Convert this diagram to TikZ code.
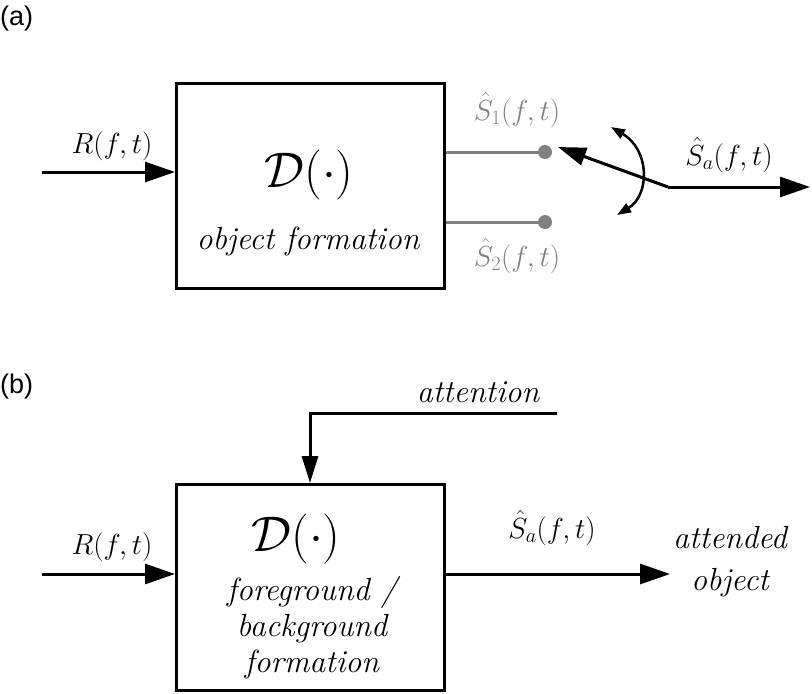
\RequirePackage{fix-cm}
\documentclass[tikz,border=0pt]{standalone}
\usepackage{fontspec}
\setsansfont{Liberation Sans}
\usetikzlibrary{arrows.meta}
\begin{document}
\begin{tikzpicture}[x=1pt,y=-1pt,
  bigarrow/.style={line width=3pt,-{Triangle[length=30pt,width=20pt]}},
  downarrow/.style={line width=3pt,-{Triangle[length=27pt,width=16pt]}},
  blockbox/.style={draw,line width=3pt,inner sep=0pt},
  mathlbl/.style={inner sep=0pt,font=\fontsize{29}{31}\selectfont},
  biglbl/.style={inner sep=0pt,font=\fontsize{50}{50}\selectfont},
  itlbl/.style={inner sep=0pt,font=\itshape\fontsize{32}{36}\selectfont,align=center},
  panel/.style={inner sep=0pt,font=\sffamily\fontsize{27}{29}\selectfont,anchor=base west},
  gline/.style={line width=3pt,draw=graytone},
  dot/.style={circle,fill=graytone,inner sep=0pt,minimum size=14pt},
  swarrow/.style={line width=3pt,-{Triangle[length=28pt,width=18pt]}},
  arcarrow/.style={line width=2.5pt,{Triangle[length=14pt,width=10pt]}-{Triangle[length=14pt,width=10pt]}},
  ]
\definecolor{graytone}{RGB}{128,128,128}
\useasboundingbox (0,0) rectangle (812,694);

% ---------- panel (a) ----------
\node[panel] (la) at (0,25) {(a)};
\node[blockbox,minimum width=268pt,minimum height=205pt] (boxa) at (310.5,186) {};
\node[biglbl] (Da) at (309,175) {$\mathcal{D}(\cdot)$};
\node[itlbl] (obja) at (308,241) {object formation};

\coordinate (ina) at (42,172);
\draw[bigarrow] (ina) -- (ina -| boxa.west);
\node[mathlbl] (Ra) at (112,146) {$R(f,t)$};

\node[dot] (d1) at (545,152) {};
\node[dot] (d2) at (545,222) {};
\draw[gline] (d1 -| boxa.east) -- (d1.center);
\draw[gline] (d2 -| boxa.east) -- (d2.center);
\node[mathlbl,text=graytone] (S1) at (517,110) {$\hat{S}_1(f,t)$};
\node[mathlbl,text=graytone] (S2) at (517,256) {$\hat{S}_2(f,t)$};

\coordinate (piv) at (668,187);
\coordinate (swtip) at (558,147);
\coordinate (outa) at (810,187);
\draw[swarrow] (piv) -- (swtip);
\draw[bigarrow] (piv) -- (outa);
\coordinate (arctop) at (611,127);
\coordinate (arcbot) at (617,215);
\draw[arcarrow] (arctop) .. controls (650,150) and (650,195) .. (arcbot);
\node[mathlbl] (Saa) at (729,155) {$\hat{S}_a(f,t)$};

% ---------- panel (b) ----------
\node[panel] (lb) at (0,393) {(b)};
\node[blockbox,minimum width=268pt,minimum height=206pt] (boxb) at (310.5,587.5) {};
\node[biglbl] (Db) at (296,539) {$\mathcal{D}(\cdot)$};
\node[itlbl] (fgb) at (312,628) {foreground /\\background\\formation};

\coordinate (inb) at (42,574);
\draw[bigarrow] (inb) -- (inb -| boxb.west);
\node[mathlbl] (Rb) at (112,547) {$R(f,t)$};

\coordinate (attstart) at (557,413);
\coordinate (attcorner) at (310,413);
\draw[downarrow] (attstart) -- (attcorner) -- (attcorner |- boxb.north);
\node[itlbl] (att) at (478,392) {attention};

\coordinate (outb) at (670,574);
\draw[bigarrow] (boxb.east |- inb) -- (outb);
\node[mathlbl] (Sab) at (552,528) {$\hat{S}_a(f,t)$};
\node[itlbl,font=\itshape\fontsize{32}{42}\selectfont] (attobj) at (730,562) {attended\\object};
\end{tikzpicture}
\end{document}
